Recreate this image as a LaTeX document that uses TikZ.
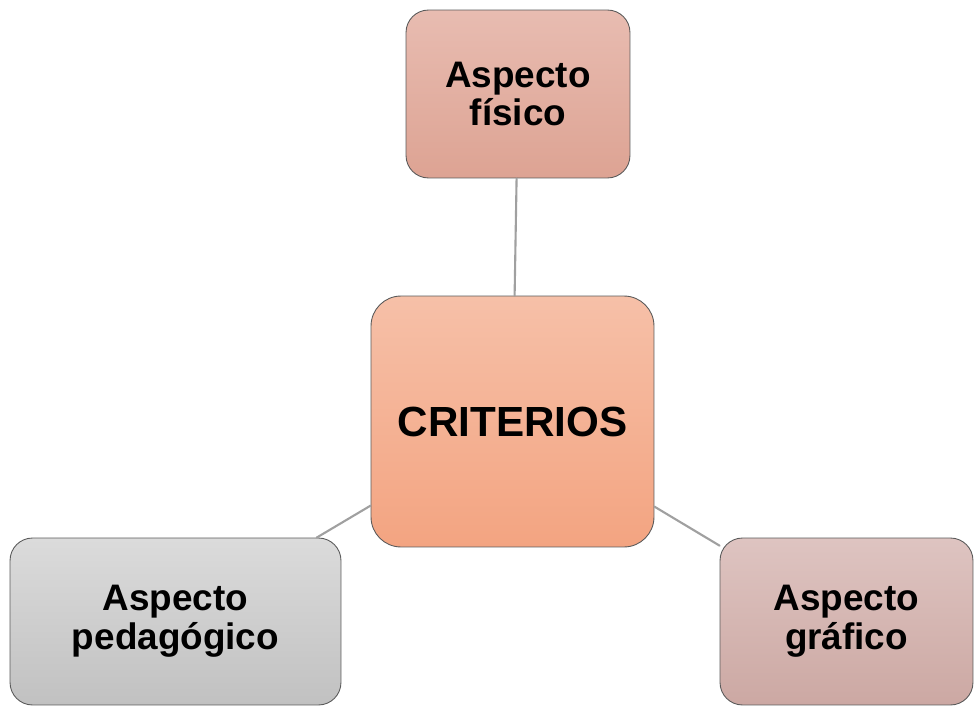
\documentclass[tikz,border=0pt]{standalone}
\usepackage{fontspec}
\setmainfont{Liberation Sans}
\usetikzlibrary{calc}

\definecolor{fisTop}{RGB}{232,188,177}
\definecolor{fisBot}{RGB}{221,163,147}
\definecolor{criTop}{RGB}{246,192,168}
\definecolor{criBot}{RGB}{243,164,129}
\definecolor{pedTop}{RGB}{219,219,219}
\definecolor{pedBot}{RGB}{193,193,193}
\definecolor{graTop}{RGB}{222,196,193}
\definecolor{graBot}{RGB}{204,168,163}
\definecolor{linea}{RGB}{160,160,160}
\definecolor{borde}{RGB}{90,90,90}

\begin{document}
\begin{tikzpicture}[x=0.02cm,y=-0.02cm,line cap=round]
	\tikzstyle{caja}=[draw=borde,line width=0.5pt,rounded corners=0.45cm,align=center,
		inner sep=0pt,font=\fontsize{21}{22}\selectfont\bfseries];
	\tikzstyle{rama}=[draw=linea,line width=1.2pt];
	\useasboundingbox (0,0) rectangle (974,706);
	%% Centre
	\node[caja,rounded corners=0.6cm,top color=criTop,bottom color=criBot,
		minimum width=5.66cm,minimum height=5.02cm,
		font=\fontsize{24}{28}\selectfont\bfseries] (crit) at (512.5,421.5) {CRITERIOS};
	%% Aspects
	\node[caja,top color=fisTop,bottom color=fisBot,
		minimum width=4.48cm,minimum height=3.36cm] (fis) at (518,94) {Aspecto\\físico};
	\node[caja,top color=pedTop,bottom color=pedBot,
		minimum width=6.62cm,minimum height=3.34cm] (ped) at (175.5,621.5) {Aspecto\\pedagógico};
	\node[caja,top color=graTop,bottom color=graBot,
		minimum width=5.06cm,minimum height=3.34cm] (gra) at (846.5,621.5) {Aspecto\\gráfico};
	%% Branches
	\draw[rama] (crit) -- (fis);
	\draw[rama] (crit) -- (ped);
	\draw[rama] (crit) -- (gra);
\end{tikzpicture}
\end{document}
